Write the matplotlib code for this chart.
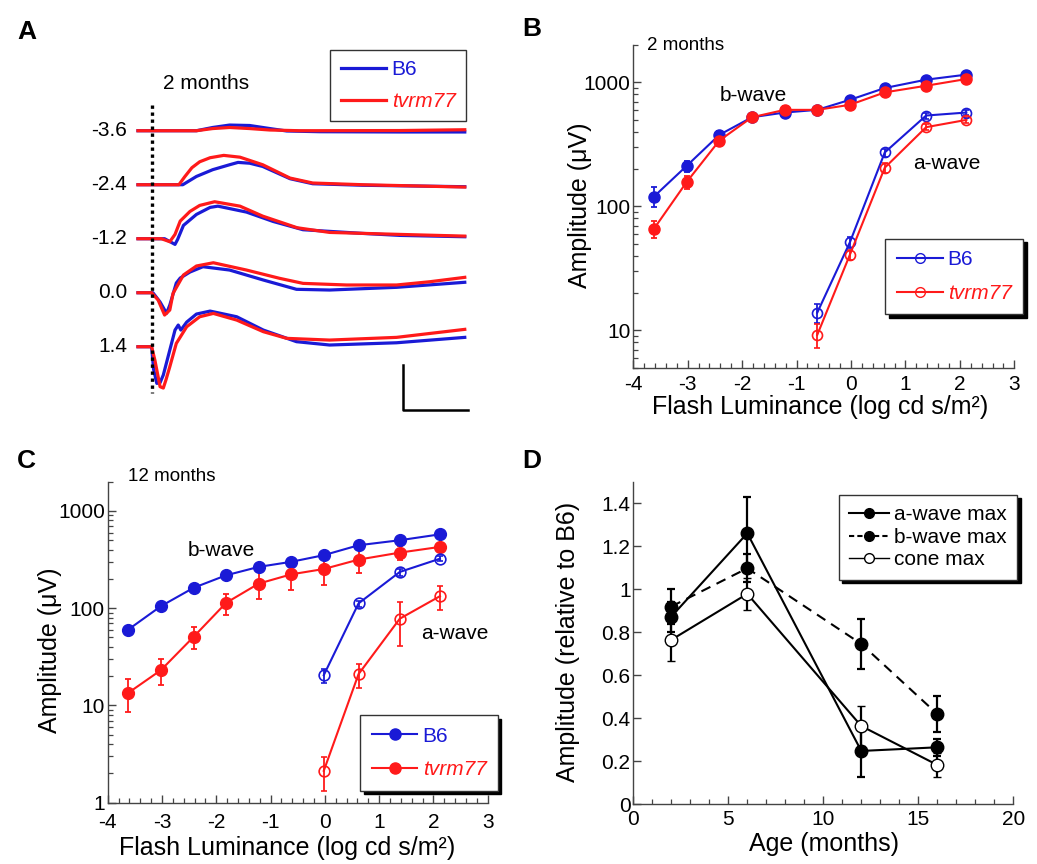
import numpy as np
import matplotlib
matplotlib.use("Agg")
import matplotlib.pyplot as plt
from matplotlib.ticker import FuncFormatter, NullFormatter, MultipleLocator
from matplotlib.lines import Line2D

plt.rcParams['font.family'] = ['Liberation Sans', 'DejaVu Sans']
plt.rcParams['axes.unicode_minus'] = False

BLUE = "#1a1ad6"
RED = "#ff1a1a"

# ------------------------------------------------------------
# Panel A: ERG traces at 2 months (time in ms, amplitude in uV)
# ------------------------------------------------------------
trace_labels = ["-3.6", "-2.4", "-1.2", "0.0", "1.4"]

tA_b6 = [
    [-21, 0, 69, 94, 120, 151, 182, 208, 259, 382, 482],
    [-21, 48, 69, 94, 120, 133, 151, 171, 213, 248, 325, 482],
    [-21, 20, 36, 40, 49, 69, 90, 102, 146, 187, 233, 325, 382, 482],
    [-21, 2, 13, 23, 28, 38, 44, 59, 79, 120, 172, 223, 274, 377, 482],
    [-21, 0, 3, 8, 13, 18, 28, 36, 41, 45, 54, 69, 90, 131, 172, 223, 274, 377, 482],
]
vA_b6 = [
    [0, 0, 0, 36, 63, 58, 24, -3, -11, -14, -14],
    [0, 0, 92, 167, 222, 248, 239, 203, 67, 11, -6, -22],
    [0, 0, -63, -8, 148, 270, 348, 362, 296, 192, 100, 59, 37, 22],
    [0, 0, -103, -229, -137, 108, 163, 230, 289, 252, 141, 38, 30, 60, 116],
    [0, 0, -250, -407, -400, -314, -37, 185, 241, 185, 274, 363, 396, 333, 185, 56, 19, 44, 104],
]
tA_tv = [
    [-21, 69, 94, 120, 151, 182, 228, 382, 482],
    [-21, 42, 51, 62, 74, 90, 111, 136, 171, 213, 248, 325, 482],
    [-21, 15, 28, 36, 44, 59, 74, 97, 136, 171, 224, 274, 382, 482],
    [-21, 0, 10, 20, 28, 33, 49, 69, 95, 146, 197, 233, 300, 377, 428, 482],
    [-21, 0, 5, 13, 18, 22, 28, 38, 54, 74, 95, 131, 172, 208, 274, 377, 482],
]
vA_tv = [
    [0, 0, 24, 36, 24, 8, 0, 2, 11],
    [0, 0, 89, 189, 255, 300, 326, 306, 222, 74, 19, 0, -26],
    [0, 0, -33, 48, 196, 303, 370, 411, 362, 251, 122, 70, 48, 29],
    [0, 0, -81, -248, -192, -7, 197, 297, 333, 252, 160, 104, 86, 86, 122, 171],
    [0, 0, -148, -444, -459, -370, -222, 37, 222, 333, 370, 296, 167, 93, 74, 104, 193],
]
trace_gap = 600      # uV between stacked traces
scale_ms = 100
scale_uV = 500

# ------------------------------------------------------------
# Panels B, C: intensity-response (log cd s/m^2, uV)
# ------------------------------------------------------------
lum = [-3.62, -3.02, -2.42, -1.82, -1.22, -0.62, -0.02, 0.62, 1.38, 2.12]

# 2 months
b_b6_2 = [120, 212, 377, 523, 571, 600, 723, 900, 1051, 1154]
b_b6_2_err = [22, 22, 25, 30, 30, 30, 30, 40, 40, 40]
b_tv_2 = [66, 157, 339, 523, 600, 600, 659, 830, 939, 1064]
b_tv_2_err = [10, 20, 30, 40, 50, 40, 40, 50, 50, 50]
a_b6_2 = [13.9, 51.4, 272, 540, 571]
a_b6_2_err = [2.5, 5, 20, 30, 30]
a_tv_2 = [9.2, 40.8, 205, 435, 498]
a_tv_2_err = [2, 4, 20, 25, 25]

# 12 months
b_b6_12 = [60.4, 105, 162, 218, 266, 300, 351, 444, 500, 575]
b_b6_12_err = [5, 8, 10, 12, 15, 15, 20, 25, 25, 30]
b_tv_12 = [13.5, 23.1, 50.7, 113.5, 179, 223, 253, 316, 373, 427]
b_tv_12_err = [5, 7, 13, 28, 55, 70, 80, 85, 60, 40]
a_b6_12 = [20.5, 112, 236, 323]
a_b6_12_err = [3.5, 8, 20, 20]
a_tv_12 = [2.13, 21, 78, 133]
a_tv_12_err = [0.8, 6, 37, 37]

# ------------------------------------------------------------
# Panel D: amplitude relative to B6 vs age
# ------------------------------------------------------------
age = [2, 6, 12, 16]
a_max = [0.872, 1.260, 0.247, 0.264]
a_max_err = [0.07, 0.17, 0.12, 0.04]
b_max = [0.919, 1.097, 0.745, 0.419]
b_max_err = [0.08, 0.065, 0.115, 0.083]
cone_max = [0.764, 0.978, 0.363, 0.182]
cone_max_err = [0.10, 0.075, 0.095, 0.055]

# ============================================================
fig = plt.figure(figsize=(10.37, 8.64), dpi=100)
axA = fig.add_axes([0.0964, 0.5139, 0.3568, 0.4398])
axB = fig.add_axes([0.6107, 0.5744, 0.3674, 0.3735])
axC = fig.add_axes([0.1039, 0.0709, 0.3664, 0.3716])
axD = fig.add_axes([0.6107, 0.0694, 0.3664, 0.3731])

SHADOW = {'facecolor': 'black', 'edgecolor': 'black', 'alpha': 1, 'ox': 2.5, 'oy': -2.5}


def legend(ax, handles, labels, anchor, colors, italic, shadow=True, spacing=0.7,
           hlen=2.2, bpad=0.55):
    leg = ax.legend(handles, labels, loc='upper right', bbox_to_anchor=anchor,
                    borderaxespad=0, fancybox=False, framealpha=1, edgecolor='#333333',
                    fontsize=15, handlelength=hlen, handletextpad=0.25,
                    labelspacing=spacing, borderpad=bpad,
                    shadow=SHADOW if shadow else False)
    leg.get_frame().set_linewidth(1.0)
    for t, c, it in zip(leg.get_texts(), colors, italic):
        t.set_color(c)
        if it:
            t.set_style('italic')
    return leg


def style(ax, xpad=4):
    for s in ['top', 'right']:
        ax.spines[s].set_visible(False)
    for s in ['left', 'bottom']:
        ax.spines[s].set_color('#444444')
        ax.spines[s].set_linewidth(1.0)
    ax.tick_params(which='both', direction='in', colors='#444444', labelcolor='black',
                   labelsize=15, top=False, right=False)
    ax.tick_params(which='major', length=5.5, width=1)
    ax.tick_params(which='minor', length=3.5, width=0.9)
    ax.tick_params(axis='y', pad=2)
    ax.tick_params(axis='x', pad=xpad)


# ---------------- Panel A ----------------
for i, lab in enumerate(trace_labels):
    off = -i * trace_gap
    axA.plot(tA_b6[i], np.array(vA_b6[i]) + off, color=BLUE, lw=2.3)
    axA.plot(tA_tv[i], np.array(vA_tv[i]) + off, color=RED, lw=2.3)
    axA.text(-38, off, lab, ha='right', va='center', fontsize=15)
axA.plot([0, 0], [285, -2911], color='black', lw=2.4, linestyle=(0, (1, 1.1)))
sb_t, sb_v = 387, -3103
axA.plot([sb_t, sb_t, sb_t + scale_ms], [sb_v + scale_uV, sb_v, sb_v], color='black', lw=1.8)
axA.text(17, 530, "2 months", fontsize=15, va='center')
axA.set_xlim(-79.5, 490)
axA.set_ylim(-3214, 1008)
axA.axis('off')
legend(axA, [Line2D([], [], color=BLUE, lw=2.3), Line2D([], [], color=RED, lw=2.3)],
       ["B6", "tvrm77"], (0.989, 0.974), [BLUE, RED], [False, True], shadow=False,
       spacing=0.6, bpad=0.5)


# ---------------- Panels B, C ----------------
def ir_panel(ax, bb6, bb6e, btv, btve, ab6, ab6e, atv, atve, ylo, ms, open_legend, xpad):
    kw = dict(lw=1.5, elinewidth=1.3, capsize=2.5, capthick=1.3)
    n_a = len(ab6)
    ax.errorbar(lum, bb6, yerr=bb6e, color=BLUE, marker='o', ms=ms, mfc=BLUE, mec=BLUE, **kw)
    ax.errorbar(lum, btv, yerr=btve, color=RED, marker='o', ms=ms, mfc=RED, mec=RED, **kw)
    ax.errorbar(lum[-n_a:], ab6, yerr=ab6e, color=BLUE, marker='o', ms=ms - 0.8,
                mfc='none', mec=BLUE, mew=1.2, **kw)
    ax.errorbar(lum[-n_a:], atv, yerr=atve, color=RED, marker='o', ms=ms - 0.8,
                mfc='none', mec=RED, mew=1.2, **kw)
    ax.set_yscale('log')
    ax.set_ylim(ylo, 2000)
    ax.set_xlim(-4, 3)
    ax.xaxis.set_major_locator(MultipleLocator(1))
    ax.xaxis.set_minor_locator(MultipleLocator(0.2))
    ax.yaxis.set_major_formatter(FuncFormatter(lambda v, p: f"{v:g}"))
    ax.yaxis.set_minor_formatter(NullFormatter())
    style(ax, xpad)
    ax.set_ylabel("Amplitude (\u03bcV)", fontsize=18)
    ax.set_xlabel("Flash Luminance (log cd s/m\u00b2)", fontsize=18)
    if open_legend:
        h = [Line2D([], [], color=c, lw=1.5, marker='o', ms=7, mfc='none', mec=c) for c in (BLUE, RED)]
    else:
        h = [Line2D([], [], color=c, lw=1.5, marker='o', ms=8, mfc=c, mec=c) for c in (BLUE, RED)]
    return h


hB = ir_panel(axB, b_b6_2, b_b6_2_err, b_tv_2, b_tv_2_err,
              a_b6_2, a_b6_2_err, a_tv_2, a_tv_2_err, 5, 8, True, 5)
axB.text(0.035, 1.0, "2 months", transform=axB.transAxes, fontsize=13.5, va='center')
axB.text(-1.80, 785, "b-wave", fontsize=15, ha='center', va='center')
axB.text(1.76, 220, "a-wave", fontsize=15, ha='center', va='center')
axB.yaxis.set_label_coords(-0.108, 0.504)
axB.xaxis.set_label_coords(0.491, -0.085)
legend(axB, hB, ["B6", "tvrm77"], (1.023, 0.399), [BLUE, RED], [False, True])

hC = ir_panel(axC, b_b6_12, b_b6_12_err, b_tv_12, b_tv_12_err,
              a_b6_12, a_b6_12_err, a_tv_12, a_tv_12_err, 1, 8.5, False, 7.5)
axC.text(0.053, 1.016, "12 months", transform=axC.transAxes, fontsize=13.5, va='center')
axC.text(-1.90, 396, "b-wave", fontsize=15, ha='center', va='center')
axC.text(2.40, 55, "a-wave", fontsize=15, ha='center', va='center')
axC.yaxis.set_label_coords(-0.120, 0.476)
axC.xaxis.set_label_coords(0.473, -0.105)
legend(axC, hC, ["B6", "tvrm77"], (1.027, 0.273), [BLUE, RED], [False, True])

# ---------------- Panel D ----------------
kwD = dict(color='black', lw=1.5, elinewidth=1.6, capsize=3.2, capthick=1.6, ms=9)
axD.errorbar(age, a_max, yerr=a_max_err, marker='o', mfc='black', mec='black', **kwD)
axD.errorbar(age, b_max, yerr=b_max_err, marker='o', mfc='black', mec='black',
             linestyle=(0, (4.8, 3.3)), **kwD)
axD.errorbar(age, cone_max, yerr=cone_max_err, marker='o', mfc='white', mec='black', mew=1.0, **kwD)
axD.set_xlim(0, 20)
axD.set_ylim(0, 1.5)
axD.xaxis.set_major_locator(MultipleLocator(5))
axD.xaxis.set_minor_locator(MultipleLocator(1))
axD.yaxis.set_major_locator(MultipleLocator(0.2))
axD.yaxis.set_major_formatter(FuncFormatter(lambda v, p: f"{v:g}"))
style(axD, 4)
axD.set_ylabel("Amplitude (relative to B6)", fontsize=18)
axD.set_xlabel("Age (months)", fontsize=18)
axD.yaxis.set_label_coords(-0.140, 0.504)
axD.xaxis.set_label_coords(0.502, -0.086)
hD = [Line2D([], [], color='black', lw=1.5, marker='o', ms=7, mfc='black'),
      Line2D([], [], color='black', lw=1.5, marker='o', ms=7, mfc='black', linestyle=(0, (2.5, 1.5))),
      Line2D([], [], color='black', lw=1.0, marker='o', ms=7, mfc='white')]
legend(axD, hD, ["a-wave max", "b-wave max", "cone max"], (1.01, 0.959),
       ['black'] * 3, [False] * 3, spacing=0.17, hlen=1.9, bpad=0.5)

# ---------------- Panel letters ----------------
for lab, (px, py) in zip("ABCD", [(26.5, 32), (532, 29), (26, 461), (532, 461)]):
    fig.text(px / 1037, 1 - py / 864, lab, fontsize=19, fontweight='bold', ha='center', va='center')

fig.savefig("out.png", dpi=100)
